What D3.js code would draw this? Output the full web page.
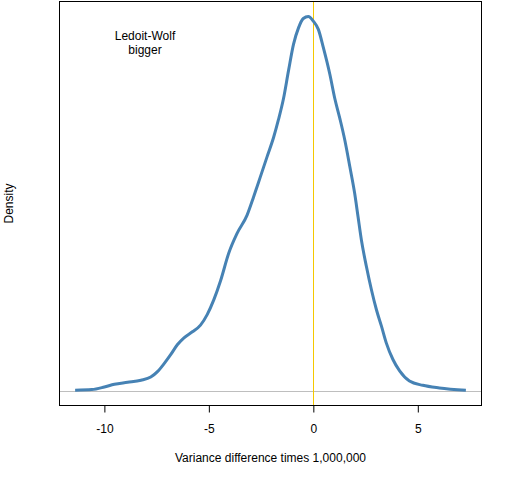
<!DOCTYPE html>
<html>
<head>
<meta charset="utf-8">
<script src="https://cdn.jsdelivr.net/npm/d3@7"></script>
<style>
  body { margin: 0; background: #fff; }
  text { font-family: "Liberation Sans", Arial, sans-serif; }
</style>
</head>
<body>
<div id="chart"></div>
<script>
// Density estimate of variance difference
var xValues = [-11.4, -10.6, -10.0, -9.52, -8.89, -8.25, -7.78, -7.46, -7.14, -6.82,
  -6.50, -6.19, -5.79, -5.40, -5.08, -4.76, -4.44, -4.05, -3.65, -3.17,
  -2.86, -2.54, -2.22, -1.90, -1.67, -1.43, -1.19, -0.95, -0.71, -0.48,
  -0.24, 0, 0.24, 0.48, 0.79, 1.03, 1.27, 1.51, 1.75, 1.98,
  2.14, 2.30, 2.54, 2.78, 3.02, 3.26, 3.49, 3.81, 4.13, 4.60,
  5.24, 6.03, 7.30];
var densityValues = [0.0002, 0.0005, 0.0019, 0.0034, 0.0044, 0.0055, 0.0072, 0.0101, 0.0144, 0.0193,
  0.0246, 0.0282, 0.0314, 0.0350, 0.0406, 0.0486, 0.0587, 0.0734, 0.0840, 0.0938,
  0.1035, 0.1141, 0.1248, 0.1354, 0.1448, 0.1560, 0.1709, 0.1851, 0.1939, 0.1989,
  0.2000, 0.1975, 0.1931, 0.1833, 0.1691, 0.1560, 0.1454, 0.1337, 0.1195, 0.1053,
  0.0929, 0.0805, 0.0663, 0.0539, 0.0432, 0.0344, 0.0255, 0.0166, 0.0105, 0.0051,
  0.0028, 0.0014, 0.0002];
var xTicks = [-10, -5, 0, 5];

var width = 512;
var height = 480;

// plot frame
var plotLeft = 59.5, plotRight = 481.5, plotTop = 1.5, plotBottom = 405.5;

var svg = d3.select("#chart")
  .append("svg")
  .attr("width", width)
  .attr("height", height);

// R style 4% padding around data range
var xMin = d3.min(xValues), xMax = d3.max(xValues);
var xPad = (xMax - xMin) * 0.04;
var xScale = d3.scaleLinear()
  .domain([xMin - xPad, xMax + xPad])
  .range([plotLeft, plotRight]);

var yMax = d3.max(densityValues);
var yPad = yMax * 0.04;
var yScale = d3.scaleLinear()
  .domain([-yPad, yMax + yPad])
  .range([plotBottom, plotTop]);

// reference lines
svg.append("line")
  .attr("x1", plotLeft).attr("x2", plotRight)
  .attr("y1", Math.round(yScale(0)) + 0.5).attr("y2", Math.round(yScale(0)) + 0.5)
  .attr("stroke", "#bebebe")
  .attr("stroke-width", 1);

svg.append("line")
  .attr("x1", Math.round(xScale(0)) + 0.5).attr("x2", Math.round(xScale(0)) + 0.5)
  .attr("y1", plotTop).attr("y2", plotBottom)
  .attr("stroke", "#f5c800")
  .attr("stroke-width", 1);

// density curve
var pts = xValues.map(function(x, i) { return [x, densityValues[i]]; });
var line = d3.line()
  .x(function(d) { return xScale(d[0]); })
  .y(function(d) { return yScale(d[1]); })
  .curve(d3.curveMonotoneX);

svg.append("path")
  .datum(pts)
  .attr("d", line)
  .attr("fill", "none")
  .attr("stroke", "steelblue")
  .attr("stroke-width", 3)
  .attr("stroke-linejoin", "round");

// box
svg.append("rect")
  .attr("x", plotLeft).attr("y", plotTop)
  .attr("width", plotRight - plotLeft).attr("height", plotBottom - plotTop)
  .attr("fill", "none")
  .attr("stroke", "#000")
  .attr("stroke-width", 1);

// bottom axis
var xAxis = d3.axisBottom(xScale)
  .tickValues(xTicks)
  .tickSize(7)
  .tickPadding(12)
  .tickFormat(function(d) { return d < 0 ? "-" + Math.abs(d) : d; });

var gx = svg.append("g")
  .attr("transform", "translate(0," + plotBottom + ")")
  .call(xAxis);
gx.select(".domain").remove();
gx.selectAll("text")
  .attr("font-size", 12)
  .attr("font-family", "Liberation Sans, Arial, sans-serif")
  .attr("fill", "#000");

// axis titles
svg.append("text")
  .attr("x", (plotLeft + plotRight) / 2)
  .attr("y", 462)
  .attr("text-anchor", "middle")
  .attr("font-size", 12)
  .text("Variance difference times 1,000,000");

svg.append("text")
  .attr("transform", "translate(13," + ((plotTop + plotBottom) / 2) + ")rotate(-90)")
  .attr("text-anchor", "middle")
  .attr("font-size", 12)
  .text("Density");

// annotation
var note = svg.append("text")
  .attr("text-anchor", "middle")
  .attr("font-size", 12);
note.append("tspan").attr("x", 145).attr("y", 40).text("Ledoit-Wolf");
note.append("tspan").attr("x", 145).attr("y", 54).text("bigger");
</script>
</body>
</html>
